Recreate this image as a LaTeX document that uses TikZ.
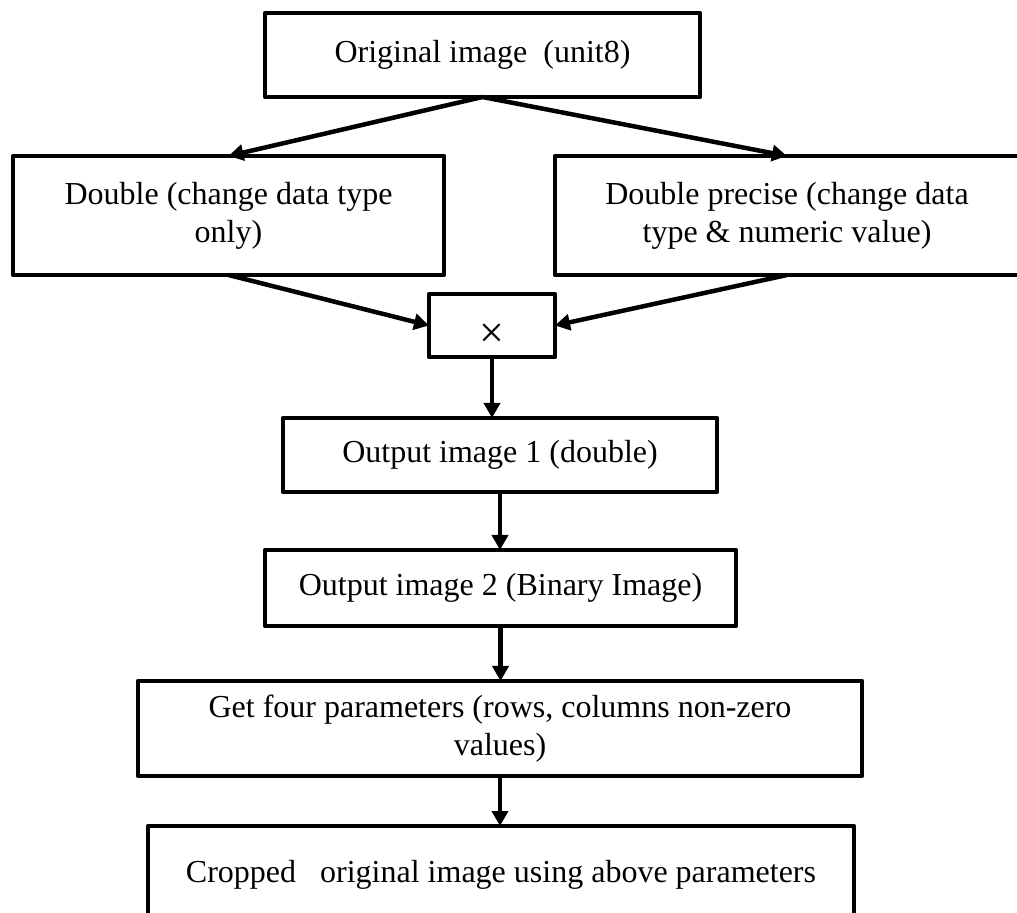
\documentclass[tikz,border=0pt]{standalone}
\usepackage{fontspec}
\setmainfont{Liberation Serif}
\usetikzlibrary{arrows.meta}
\begin{document}
\begin{tikzpicture}[x=0.5pt, y=-0.5pt,
  box/.style={draw, line width=2.25pt, line join=round, inner sep=0pt, outer sep=0pt,
    align=center, font=\fontsize{16}{19}\selectfont},
  arr/.style={line width=2.25pt, -{Triangle[length=7.5pt, width=8pt]}}]
  \clip (0,0) rectangle (1017,913);
  \node[box, minimum width=217.5pt, minimum height=42pt] (orig) at (482.5,55) {Original image\ \ (unit8)};
  \node[box, minimum width=215.5pt, minimum height=59.5pt] (dbl) at (228.5,215.5) {Double (change data type\\only)};
  \node[box, minimum width=232pt, minimum height=59.5pt] (prec) at (787,215.5) {Double precise (change data\\type \& numeric value)};
  \node[box, minimum width=63pt, minimum height=31.5pt] (mult) at (492,325.5) {\smash{\raisebox{-11pt}{\fontsize{22}{22}\selectfont ×}}};
  \node[box, minimum width=217pt, minimum height=37pt] (out1) at (500,455) {Output image 1 (double)};
  \node[box, minimum width=235.5pt, minimum height=38pt] (out2) at (500.5,588) {Output image 2 (Binary Image)};
  \node[box, minimum width=362pt, minimum height=47.5pt] (param) at (500,728.5) {Get four parameters (rows, columns non-zero\\values)};
  \node[box, minimum width=353pt, minimum height=49pt] (crop) at (501,875) {Cropped\ \ \ original image using above parameters};
  \draw[arr] (orig.south) -- (dbl.north);
  \draw[arr] (orig.south) -- (prec.north);
  \draw[arr] (dbl.south) -- (mult.west);
  \draw[arr] (prec.south) -- (mult.east);
  \draw[arr] (mult.south) -- (mult.south |- out1.north);
  \draw[arr] (out1.south) -- (out1.south |- out2.north);
  \draw[arr] (out2.south) -- (out2.south |- param.north);
  \draw[arr] (param.south) -- (param.south |- crop.north);
\end{tikzpicture}
\end{document}
